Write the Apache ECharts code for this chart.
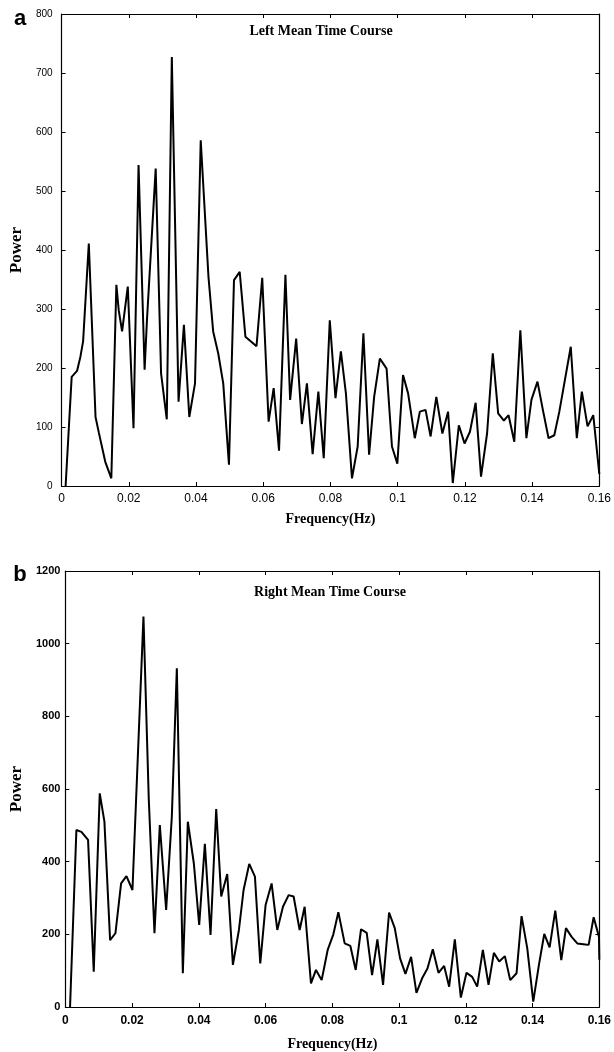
<!DOCTYPE html>
<html>

<head>
    <meta charset="UTF-8">
    <title>Mean Time Course Power</title>
    <script src="https://cdn.jsdelivr.net/npm/echarts@6/dist/echarts.min.js"></script>
    <style>
        html, body {
            margin: 0;
            padding: 0;
            background: #fff;
        }
    </style>
</head>

<body>
    <div id="main" style="width: 614px;height:1052px;"></div>
</body>
<script type="text/javascript">

    // panel a: left mean time course (frequency Hz, power)
    var leftFreq = [0.0012, 0.0030, 0.0046, 0.0056, 0.0064, 0.0081, 0.0101, 0.0111, 0.0130, 0.0148,
        0.0163, 0.0170, 0.0180, 0.0197, 0.0214, 0.0229, 0.0247, 0.0254, 0.0280, 0.0296,
        0.0313, 0.0328, 0.0348, 0.0364, 0.0380, 0.0397, 0.0414, 0.0437, 0.0451, 0.0466,
        0.0481, 0.0498, 0.0513, 0.0530, 0.0547, 0.0580, 0.0597, 0.0616, 0.0631, 0.0647,
        0.0666, 0.0680, 0.0698, 0.0715, 0.0730, 0.0747, 0.0764, 0.0780, 0.0798, 0.0815,
        0.0831, 0.0846, 0.0864, 0.0881, 0.0898, 0.0915, 0.0930, 0.0947, 0.0967, 0.0983,
        0.0999, 0.1016, 0.1031, 0.1051, 0.1066, 0.1083, 0.1098, 0.1115, 0.1133, 0.1150,
        0.1164, 0.1182, 0.1199, 0.1215, 0.1232, 0.1248, 0.1266, 0.1283, 0.1299, 0.1316,
        0.1330, 0.1347, 0.1365, 0.1383, 0.1398, 0.1416, 0.1432, 0.1449, 0.1466, 0.1481,
        0.1515, 0.1533, 0.1548, 0.1565, 0.1582, 0.1600];
    var leftPower = [0, 185, 195, 219, 245, 411, 117, 90, 41, 13,
        341, 298, 262, 338, 98, 544, 197, 281, 538, 191,
        113, 727, 143, 273, 117, 174, 586, 355, 262, 225,
        174, 36, 349, 363, 253, 237, 353, 109, 166, 60,
        358, 146, 250, 105, 174, 54, 160, 47, 281, 149,
        228, 157, 13, 67, 259, 53, 151, 216, 199, 67,
        38, 188, 157, 81, 126, 129, 84, 151, 89, 126,
        5, 103, 72, 92, 141, 16, 89, 225, 123, 111,
        120, 75, 264, 81, 146, 177, 129, 81, 86, 126,
        236, 81, 160, 101, 120, 20];

    // panel b: right mean time course
    var rightFreq = [0.0014, 0.0033, 0.0048, 0.0068, 0.0085, 0.0103, 0.0117, 0.0134, 0.0150, 0.0167,
        0.0183, 0.0201, 0.0234, 0.0250, 0.0267, 0.0283, 0.0302, 0.0319, 0.0334, 0.0352,
        0.0367, 0.0385, 0.0401, 0.0418, 0.0435, 0.0452, 0.0467, 0.0485, 0.0502, 0.0520,
        0.0534, 0.0551, 0.0568, 0.0584, 0.0600, 0.0618, 0.0635, 0.0652, 0.0669, 0.0684,
        0.0702, 0.0717, 0.0736, 0.0751, 0.0768, 0.0786, 0.0803, 0.0818, 0.0837, 0.0854,
        0.0870, 0.0886, 0.0903, 0.0919, 0.0935, 0.0952, 0.0970, 0.0987, 0.1003, 0.1019,
        0.1036, 0.1052, 0.1069, 0.1085, 0.1101, 0.1118, 0.1135, 0.1150, 0.1167, 0.1185,
        0.1202, 0.1219, 0.1234, 0.1251, 0.1268, 0.1284, 0.1300, 0.1317, 0.1333, 0.1352,
        0.1367, 0.1384, 0.1402, 0.1419, 0.1435, 0.1451, 0.1468, 0.1486, 0.1500, 0.1517,
        0.1534, 0.1552, 0.1568, 0.1583, 0.1599, 0.1600];
    var rightPower = [0, 487, 482, 460, 97, 588, 510, 184, 203, 340,
        360, 322, 1075, 570, 203, 501, 267, 524, 932, 93,
        510, 395, 226, 449, 198, 545, 304, 366, 116, 212,
        322, 394, 359, 120, 281, 340, 212, 276, 308, 304,
        212, 276, 65, 102, 74, 157, 200, 261, 175, 168,
        102, 214, 204, 88, 186, 61, 260, 217, 134, 91,
        138, 39, 79, 106, 159, 94, 113, 56, 186, 26,
        94, 83, 56, 157, 61, 149, 125, 140, 74, 93,
        250, 162, 15, 116, 201, 164, 265, 129, 217, 193,
        175, 173, 171, 247, 193, 130];

    var freqMin = 0, freqMax = 0.16, freqStep = 0.02;

    function pairs(xs, ys) {
        return xs.map(function (x, i) { return [x, ys[i]]; });
    }

    var serif = '"Liberation Serif", "DejaVu Serif", serif';
    var sans = '"Liberation Sans", Arial, sans-serif';

    // plain numbers, no thousands separator
    function plain(v) { return String(v); }

    var frameLine = { show: true, onZero: false, lineStyle: { color: '#000', width: 1.2 } };
    var inTick = { show: true, inside: true, length: 4, lineStyle: { color: '#000' } };

    function bottomAxis(grid, gap, margin, weight) {
        return {
            gridIndex: grid, type: 'value', position: 'bottom',
            min: freqMin, max: freqMax, interval: freqStep,
            name: 'Frequency(Hz)', nameLocation: 'middle', nameGap: gap,
            nameTextStyle: { fontFamily: serif, fontWeight: 'bold', fontSize: 14, color: '#000' },
            axisLine: frameLine,
            axisTick: inTick,
            axisLabel: { fontFamily: sans, fontSize: 12, fontWeight: weight, color: '#000', margin: margin, formatter: plain },
            splitLine: { show: false }
        };
    }
    function topAxis(grid) {
        return {
            gridIndex: grid, type: 'value', position: 'top',
            min: freqMin, max: freqMax, interval: freqStep,
            axisLine: frameLine,
            axisTick: inTick,
            axisLabel: { show: false },
            splitLine: { show: false }
        };
    }
    function leftAxis(grid, max, step, margin, size, weight) {
        return {
            gridIndex: grid, type: 'value', position: 'left',
            min: 0, max: max, interval: step,
            name: 'Power', nameLocation: 'middle', nameGap: 36,
            nameTextStyle: { fontFamily: serif, fontWeight: 'bold', fontSize: 17, color: '#000' },
            axisLine: frameLine,
            axisTick: inTick,
            axisLabel: { fontFamily: sans, fontSize: size, fontWeight: weight, color: '#000', margin: margin, formatter: plain },
            splitLine: { show: false }
        };
    }
    function rightAxis(grid, max, step) {
        return {
            gridIndex: grid, type: 'value', position: 'right',
            min: 0, max: max, interval: step,
            axisLine: frameLine,
            axisTick: inTick,
            axisLabel: { show: false },
            splitLine: { show: false }
        };
    }

    var myChart = echarts.init(document.getElementById('main'));

    var option = {
        animation: false,
        backgroundColor: '#fff',
        grid: [
            { left: 61, right: 13, top: 14, height: 472 },
            { left: 62, right: 11, top: 571, height: 436 }
        ],
        xAxis: [bottomAxis(0, 26, 7, 'normal'), topAxis(0), bottomAxis(1, 30, 8, 'bold'), topAxis(1)],
        yAxis: [leftAxis(0, 800, 100, 9, 10, 'normal'), rightAxis(0, 800, 100),
            leftAxis(1, 1200, 200, 5, 11, 'bold'), rightAxis(1, 1200, 200)],
        graphic: [
            { type: 'text', x: 20, y: 19, style: { text: 'a', font: 'bold 22px ' + sans, fill: '#000', textAlign: 'center', textVerticalAlign: 'middle' } },
            { type: 'text', x: 20, y: 575, style: { text: 'b', font: 'bold 22px ' + sans, fill: '#000', textAlign: 'center', textVerticalAlign: 'middle' } },
            { type: 'text', x: 321, y: 31, style: { text: 'Left Mean Time Course', font: 'bold 14px ' + serif, fill: '#000', textAlign: 'center', textVerticalAlign: 'middle' } },
            { type: 'text', x: 330, y: 592, style: { text: 'Right Mean Time Course', font: 'bold 14px ' + serif, fill: '#000', textAlign: 'center', textVerticalAlign: 'middle' } }
        ],
        series: [
            {
                type: 'line', xAxisIndex: 0, yAxisIndex: 0,
                data: pairs(leftFreq, leftPower),
                showSymbol: false, smooth: false,
                lineStyle: { color: '#000', width: 2 }
            },
            {
                type: 'line', xAxisIndex: 2, yAxisIndex: 2,
                data: pairs(rightFreq, rightPower),
                showSymbol: false, smooth: false,
                lineStyle: { color: '#000', width: 2 }
            }
        ]
    };

    myChart.setOption(option);

</script>

</html>
